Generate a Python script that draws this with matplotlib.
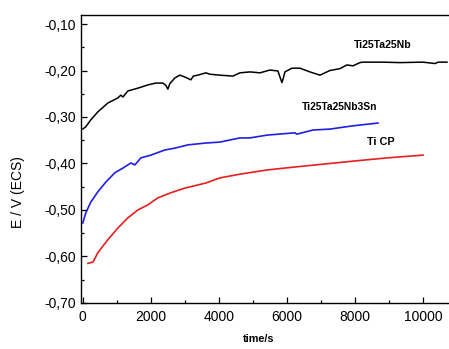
import matplotlib
matplotlib.use("Agg")
import matplotlib.pyplot as plt
from matplotlib.ticker import MultipleLocator, FuncFormatter

plt.rcParams["font.family"] = ["Liberation Sans", "DejaVu Sans"]

# Ti25Ta25Nb (black)
t_nb = [0, 88, 235, 441, 735, 1029, 1118, 1180, 1324, 1618, 1912, 2147, 2353, 2440, 2500,
        2560, 2706, 2853, 3000, 3176, 3250, 3382, 3618, 3735, 4029, 4412, 4618, 4912,
        5206, 5500, 5735, 5800, 5853, 5900, 5941, 6147, 6382, 6676, 6971, 7118, 7265,
        7559, 7765, 7941, 8147, 8235, 8800, 9324, 10000, 10353, 10450, 10706]
e_nb = [-0.326, -0.321, -0.306, -0.289, -0.270, -0.259, -0.253, -0.257, -0.244, -0.238,
        -0.231, -0.227, -0.227, -0.232, -0.240, -0.228, -0.216, -0.210, -0.214, -0.220,
        -0.212, -0.210, -0.205, -0.208, -0.210, -0.212, -0.205, -0.203, -0.205, -0.199,
        -0.201, -0.215, -0.226, -0.215, -0.203, -0.195, -0.195, -0.203, -0.210, -0.205,
        -0.200, -0.196, -0.188, -0.190, -0.183, -0.182, -0.182, -0.183, -0.182, -0.185,
        -0.182, -0.182]

# Ti25Ta25Nb3Sn (blue)
t_sn = [0, 88, 235, 441, 676, 941, 1176, 1412, 1530, 1706, 2000, 2412, 2706, 3088, 3618,
        4029, 4618, 4912, 5412, 6235, 6290, 6765, 7265, 7941, 8676]
e_sn = [-0.528, -0.506, -0.483, -0.461, -0.440, -0.420, -0.410, -0.399, -0.403, -0.388,
        -0.382, -0.371, -0.367, -0.360, -0.356, -0.354, -0.345, -0.345, -0.339, -0.334,
        -0.337, -0.328, -0.326, -0.319, -0.313]

# Ti CP (red)
t_cp = [150, 300, 441, 735, 1029, 1324, 1618, 1912, 2206, 2588, 3000, 3618, 4029, 4618,
        5412, 6176, 7265, 7941, 8941, 10000]
e_cp = [-0.615, -0.612, -0.592, -0.564, -0.539, -0.517, -0.500, -0.489, -0.474, -0.463,
        -0.453, -0.442, -0.431, -0.423, -0.414, -0.408, -0.400, -0.395, -0.388, -0.382]

fig = plt.figure(figsize=(4.49, 3.49), dpi=100)
ax = fig.add_axes([0.180, 0.132, 0.82, 0.825])

ax.plot(t_nb, e_nb, color="black", lw=1.1)
ax.plot(t_sn, e_sn, color="#1f1fe6", lw=1.2)
ax.plot(t_cp, e_cp, color="#e61f1f", lw=1.2)

ax.text(8824, -0.145, "Ti25Ta25Nb", fontsize=7.6, fontweight="bold", ha="center", va="center")
ax.text(7559, -0.278, "Ti25Ta25Nb3Sn", fontsize=7.4, fontweight="bold", ha="center", va="center")
ax.text(8765, -0.354, "Ti CP", fontsize=7.8, fontweight="bold", ha="center", va="center")

ax.set_xlim(-59, 10765)
ax.set_ylim(-0.70, -0.0806)
ax.xaxis.set_major_locator(MultipleLocator(2000))
ax.xaxis.set_minor_locator(MultipleLocator(1000))
ax.yaxis.set_major_locator(MultipleLocator(0.1))
ax.yaxis.set_minor_locator(MultipleLocator(0.05))
ax.yaxis.set_major_formatter(FuncFormatter(lambda v, p: f"{v:.2f}".replace(".", ",")))
ax.tick_params(which="both", direction="in", labelsize=10, width=0.9)
ax.tick_params(which="major", length=4)
ax.tick_params(which="minor", length=2.5)
ax.tick_params(axis="x", pad=5)
ax.spines["right"].set_visible(False)
for s in ("left", "bottom", "top"):
    ax.spines[s].set_linewidth(1.0)

fig.text(0.04, 0.45, "E / V (ECS)", rotation=90, fontsize=10, ha="center", va="center")
fig.text(0.575, 0.03, "time/s", fontsize=7.8, fontweight="bold", ha="center", va="center")

fig.savefig("out.png", dpi=100)
